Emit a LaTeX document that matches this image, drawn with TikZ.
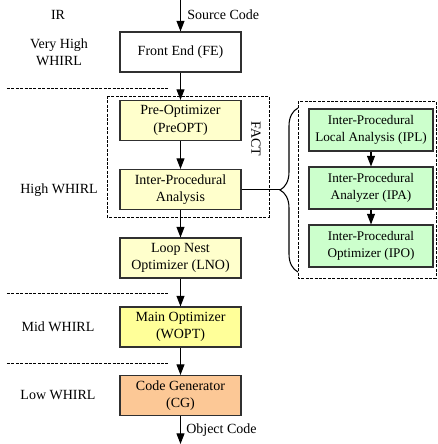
\documentclass[tikz,border=0pt]{standalone}
\usepackage{fontspec}
\setmainfont{Liberation Serif}
\usetikzlibrary{arrows.meta,decorations.pathreplacing}
\definecolor{paleyellow}{HTML}{FFFFCC}
\definecolor{midyellow}{HTML}{FFFF99}
\definecolor{peach}{HTML}{FCC896}
\definecolor{palegreen}{HTML}{CCFFCC}
\definecolor{edge}{HTML}{303030}
\begin{document}
\begin{tikzpicture}[x=0.75pt,y=-0.75pt,
  font=\fontsize{10.5}{13}\selectfont,
  stagebox/.style={draw=edge, line width=0.8pt, minimum width=90.75pt, minimum height=30pt, align=center, inner sep=1pt},
  ipbox/.style={stagebox, fill=palegreen, minimum width=93pt, minimum height=31.5pt, font=\fontsize{9.9}{12.5}\selectfont},
  flow/.style={line width=0.8pt, -{Triangle[length=8pt,width=6pt]}},
  sep/.style={line width=0.7pt, dash pattern=on 2.2pt off 1.1pt},
  lbl/.style={align=center, inner sep=0pt}]
\useasboundingbox (0,0) rectangle (438,444);

% left labels
\node[lbl] (ir) at (58,15) {IR};
\node[lbl] (vh) at (59,52) {Very High\\WHIRL};
\node[lbl] (hw) at (59,190) {High WHIRL};
\node[lbl] (mw) at (58,327) {Mid WHIRL};
\node[lbl] (lw) at (58,395) {Low WHIRL};

% separators
\draw[sep] (7,88) -- (168,88);
\draw[sep] (7,293) -- (168,293);
\draw[sep] (7,363) -- (168,363);

% dashed groups
\draw[sep] (107,96) rectangle (269,217);
\node[lbl, rotate=-90] (fact) at (256,139) {FACT};
\draw[sep] (298,101) rectangle (436,278);

% main stages
\node[stagebox] (fe) at (180.5,52) {Front End (FE)};
\node[stagebox, fill=paleyellow] (preopt) at (180.5,120.5) {Pre-Optimizer\\(PreOPT)};
\node[stagebox, fill=paleyellow] (ipa) at (180.5,189.5) {Inter-Procedural\\Analysis};
\node[stagebox, fill=paleyellow] (lno) at (180.5,258) {Loop Nest\\Optimizer (LNO)};
\node[stagebox, fill=midyellow] (wopt) at (180.5,327) {Main Optimizer\\(WOPT)};
\node[stagebox, fill=peach] (cg) at (180.5,395.5) {Code Generator\\(CG)};

% IP boxes
\node[ipbox] (ipl) at (371,130) {Inter-Procedural\\Local Analysis (IPL)};
\node[ipbox] (ipaz) at (371,188) {Inter-Procedural\\Analyzer (IPA)};
\node[ipbox] (ipo) at (371,246) {Inter-Procedural\\Optimizer (IPO)};

% in/out
\coordinate (src) at (180.5,0);
\coordinate (obj) at (180.5,444);
\draw[flow] (src) -- (fe.north);
\node[lbl, anchor=west] (srcl) at (187,15) {Source Code};
\draw[flow] (cg.south) -- (obj);
\node[lbl, anchor=west] (objl) at (186,430) {Object Code};

% flow
\draw[flow] (fe) -- (preopt);
\draw[flow] (preopt) -- (ipa);
\draw[flow] (ipa) -- (lno);
\draw[flow] (lno) -- (wopt);
\draw[flow] (wopt) -- (cg);
\draw[flow] (ipl) -- (ipaz);
\draw[flow] (ipaz) -- (ipo);

% brace
\draw[line width=0.8pt, decorate, decoration={brace, amplitude=13.5pt}] (298,272) -- (298,108);
\coordinate (tip) at (280,190);
\draw[line width=0.8pt] (ipa.east) -- (ipa.east -| tip);
\end{tikzpicture}
\end{document}
